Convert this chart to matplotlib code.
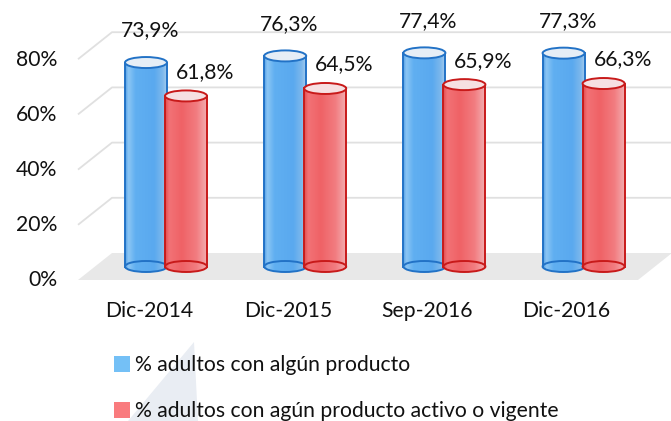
import numpy as np
import matplotlib
matplotlib.use('Agg')
import matplotlib.pyplot as plt
from matplotlib.path import Path
from matplotlib.patches import PathPatch, Ellipse, Polygon, Rectangle
from matplotlib.colors import LinearSegmentedColormap

# ---------------- data ----------------
categories = ['Dic-2014', 'Dic-2015', 'Sep-2016', 'Dic-2016']
algun_producto = [73.9, 76.3, 77.4, 77.3]
producto_activo = [61.8, 64.5, 65.9, 66.3]
series_names = ['% adultos con algún producto',
                '% adultos con agún producto activo o vigente']
y_ticks = [0, 20, 40, 60, 80]

# ---------------- layout ----------------
W, H = 671, 421
FONT = 'Lato'
FS = 15.2
TXT = '#111111'

fig = plt.figure(figsize=(W / 100, H / 100), dpi=100)
ax = fig.add_axes([0, 0, 1, 1])
ax.axis('off')

PXX = 139.2   # pixels per category
PXY = 2.76    # pixels per percent
X0 = 166.0    # pixel x of first group centre
Y0 = 266.5    # pixel y (from top) of the 0 % level
XLIM = (-X0 / PXX, (W - X0) / PXX)
YLIM = ((Y0 - H) / PXY, Y0 / PXY)


def xpx(p):
    return (p - X0) / PXX


def ypx(p):
    return (Y0 - p) / PXY


DX = 17 / PXX     # half depth, x
DY = 13.5 / PXY   # half depth, y
CW = 42 / PXX     # cylinder width
EH = 11 / PXY     # ellipse height
OFF = 20 / PXX    # half distance between the two cylinders

# floor
floor = Polygon([(xpx(78), -DY), (xpx(638), -DY), (xpx(672), DY), (xpx(112), DY)],
                closed=True, facecolor='#e8e8e8', edgecolor='none', zorder=1)
ax.add_patch(floor)

# gridlines (3-D wall)
for v in y_ticks[1:]:
    ax.plot([xpx(78), xpx(112), xpx(672)], [v - DY, v + DY, v + DY],
            color='#e0e0e0', lw=1.3, zorder=1, solid_capstyle='butt')

# y tick labels
for v in y_ticks:
    ax.text(xpx(57), v - DY - 6.5 / PXY, f'{v}%', ha='right', va='baseline',
            fontsize=FS, family=FONT, color=TXT)

blue_cmap = LinearSegmentedColormap.from_list('b', [
    (0.0, '#4f9de6'), (0.08, '#8cc6f4'), (0.25, '#60aff1'),
    (0.7, '#5aa9ef'), (0.9, '#7db8ec'), (1.0, '#a4cbee')])
red_cmap = LinearSegmentedColormap.from_list('r', [
    (0.0, '#e24a4c'), (0.1, '#f27276'), (0.4, '#ef6266'),
    (0.75, '#f27c80'), (1.0, '#f3adb0')])


def cylinder(xc, v, cmap, edge, topfill, z):
    x0, x1 = xc - CW / 2, xc + CW / 2
    t = np.linspace(np.pi, 2 * np.pi, 60)
    bx = xc + CW / 2 * np.cos(t)
    by = EH / 2 * np.sin(t)
    verts = [(x0, v)] + list(zip(bx, by)) + [(x1, v), (x0, v)]
    patch = PathPatch(Path(verts, closed=True), facecolor='none', edgecolor='none', zorder=z)
    ax.add_patch(patch)
    grad = np.linspace(0, 1, 256).reshape(1, -1)
    im = ax.imshow(grad, cmap=cmap, extent=[x0, x1, -EH / 2, v], aspect='auto',
                   interpolation='bilinear', zorder=z)
    im.set_clip_path(patch)
    ax.add_patch(Ellipse((xc, 0), CW, EH, fill=False, edgecolor=edge, lw=1.4, zorder=z + 0.1))
    ax.plot([x0, x0], [0, v], color=edge, lw=1.4, zorder=z + 0.1)
    ax.plot([x1, x1], [0, v], color=edge, lw=1.4, zorder=z + 0.1)
    ax.add_patch(Ellipse((xc, v), CW, EH, facecolor=topfill, edgecolor=edge, lw=1.4, zorder=z + 0.2))


for i, cat in enumerate(categories):
    vb = algun_producto[i]
    vr = producto_activo[i]
    cylinder(i - OFF, vb, blue_cmap, '#2272c6', '#e6eef6', 3 + i)
    cylinder(i + OFF, vr, red_cmap, '#c81a1a', '#f6e0e2', 3.5 + i)
    ax.text(i - OFF + 4 / PXX, vb + 26 / PXY, f'{vb:.1f}%'.replace('.', ','),
            ha='center', va='baseline', fontsize=FS, family=FONT, color=TXT, zorder=20)
    ax.text(i + OFF + 19 / PXX, vr + 18 / PXY, f'{vr:.1f}%'.replace('.', ','),
            ha='center', va='baseline', fontsize=FS, family=FONT, color=TXT, zorder=20)
    ax.text(i - DX, ypx(316.7), cat, ha='center', va='baseline',
            fontsize=FS, family=FONT, color=TXT)

# faint triangle artefact at the bottom
ax.add_patch(Polygon([(xpx(128), ypx(421)), (xpx(194), ypx(342)), (xpx(198), ypx(421))],
                     closed=True, facecolor='#e9edf3', edgecolor='none', zorder=0.5))

# legend
leg_colors = ['#74c0f6', '#f97b7e']
leg_base = [371, 417]
for name, col, base in zip(series_names, leg_colors, leg_base):
    ax.add_patch(Rectangle((xpx(114), ypx(base + 1)), 16 / PXX, 16 / PXY,
                           facecolor=col, edgecolor='none', zorder=5))
    ax.text(xpx(135), ypx(base), name, ha='left', va='baseline',
            fontsize=FS, family=FONT, color=TXT, zorder=6)

ax.set_xlim(*XLIM)
ax.set_ylim(*YLIM)
fig.savefig('out.png', dpi=100)
